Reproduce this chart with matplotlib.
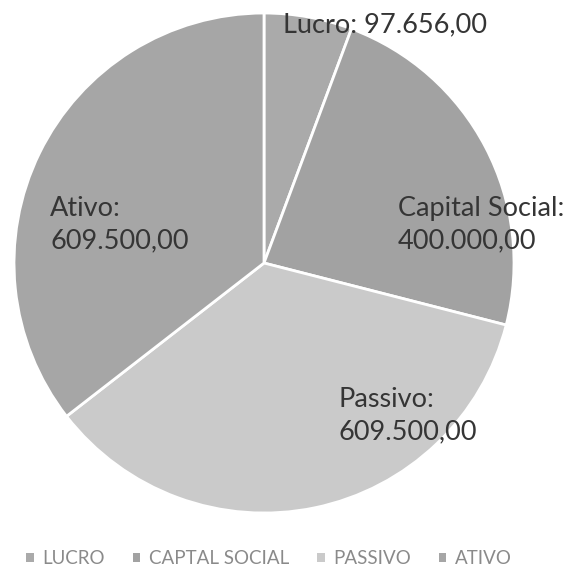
import matplotlib.pyplot as plt
from matplotlib.patches import Patch

categories = ["LUCRO", "CAPTAL SOCIAL", "PASSIVO", "ATIVO"]
values = [97656.00, 400000.00, 609500.00, 609500.00]
label_names = ["Lucro", "Capital Social", "Passivo", "Ativo"]
colors = ["#aaaaaa", "#a2a2a2", "#cacaca", "#a6a6a6"]


def br(v):
    # brazilian number format 1.234,56
    s = "{:,.2f}".format(v)
    return s.replace(",", "X").replace(".", ",").replace("X", ".")


plt.rcParams['font.family'] = ['Lato', 'DejaVu Sans']

fig = plt.figure(figsize=(5.81, 5.69), dpi=100)
ax = fig.add_axes([0.0241, 0.0984, 0.8606, 0.8787])

wedges, _ = ax.pie(values, colors=colors, startangle=90, counterclock=False,
                   wedgeprops=dict(edgecolor="white", linewidth=2))
ax.set_xlim(-1, 1)
ax.set_ylim(-1, 1)
ax.set_aspect("equal")

lbl_color = "#353535"
fs = 19.5
ax.text(0.076, 0.952, label_names[0] + ": " + br(values[0]), ha="left", va="center",
        fontsize=fs, color=lbl_color)
ax.text(0.536, 0.154, label_names[1] + ":\n" + br(values[1]), ha="left", va="center",
        fontsize=fs, color=lbl_color, linespacing=1.35)
ax.text(0.296, -0.61, label_names[2] + ":\n" + br(values[2]), ha="left", va="center",
        fontsize=fs, color=lbl_color, linespacing=1.35)
ax.text(-0.856, 0.154, label_names[3] + ":\n" + br(values[3]), ha="left", va="center",
        fontsize=fs, color=lbl_color, linespacing=1.35)

# legend handles without the white wedge edge
handles = [Patch(facecolor=c, edgecolor="none") for c in colors]
fig.legend(handles, categories, loc="center", bbox_to_anchor=(0.463, 0.018), ncol=4,
           frameon=False, fontsize=13.5, handlelength=0.4, handleheight=0.4,
           handletextpad=0.45, columnspacing=1.5, labelcolor="#8a8a8a",
           borderpad=0, borderaxespad=0)

fig.savefig("out.png", dpi=100)
